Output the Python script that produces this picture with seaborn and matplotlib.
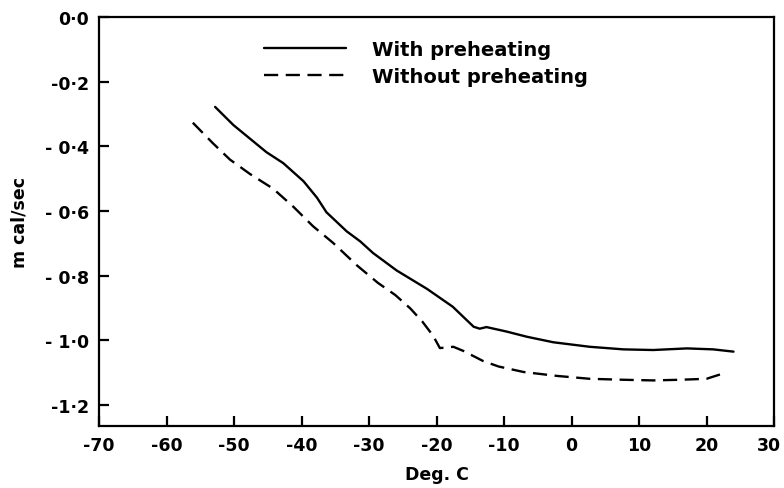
import numpy as np
import pandas as pd
import matplotlib
matplotlib.use("Agg")
import matplotlib.pyplot as plt
import matplotlib.transforms as mtransforms
import seaborn as sns

# Data
with_x = [-52.8, -50.1, -45.2, -42.7, -39.7, -37.7, -36.3, -33.3, -31.3, -29.4, -25.9, -21.4,
          -17.6, -15.8, -14.5, -13.6, -12.6, -9.6, -6.6, -2.7, 2.7, 7.7, 12.1, 17.1, 21.0, 24.0]
with_y = [-0.278, -0.334, -0.418, -0.452, -0.508, -0.559, -0.604, -0.663, -0.694, -0.730, -0.784, -0.841,
          -0.896, -0.932, -0.958, -0.964, -0.959, -0.973, -0.989, -1.006, -1.020, -1.028, -1.030, -1.025,
          -1.028, -1.035]

without_x = [-56.1, -53.1, -50.6, -47.6, -44.2, -41.2, -38.3, -35.3, -31.8, -28.7, -26.1, -23.9,
             -22.1, -20.5, -19.5, -17.5, -16.0, -13.1, -10.8, -7.1, -2.2, 2.7, 7.7, 12.1, 16.1,
             20.0, 22.7]
without_y = [-0.327, -0.391, -0.441, -0.486, -0.531, -0.587, -0.647, -0.699, -0.768, -0.822, -0.860, -0.901,
             -0.942, -0.986, -1.024, -1.020, -1.033, -1.064, -1.081, -1.098, -1.110, -1.119, -1.122, -1.124,
             -1.122, -1.119, -1.101]

series_labels = ["With preheating", "Without preheating"]
x_ticks = [-70, -60, -50, -40, -30, -20, -10, 0, 10, 20, 30]
x_ticklabels = ["-70", "-60", "-50", "-40", "-30", "-20", "-10", "0", "10", "20", "30"]
y_ticks = [0.0, -0.2, -0.4, -0.6, -0.8, -1.0, -1.2]
y_ticklabels = ["0·0", "-0·2", "- 0·4", "- 0·6", "- 0·8", "- 1·0", "-1·2"]

sns.set_theme(style="ticks")
plt.rcParams['font.family'] = ['DejaVu Sans']
plt.rcParams['text.color'] = 'black'
plt.rcParams['axes.labelcolor'] = 'black'

fig = plt.figure(figsize=(7.84, 4.89), dpi=100)
ax = fig.add_axes([99/784, 62/489, (774-99)/784, (427-18)/489])

df1 = pd.DataFrame({"x": with_x, "y": with_y})
df2 = pd.DataFrame({"x": without_x, "y": without_y})
sns.lineplot(data=df1, x="x", y="y", ax=ax, color="black", linewidth=1.7,
             label=series_labels[0], sort=False, estimator=None)
sns.lineplot(data=df2, x="x", y="y", ax=ax, color="black", linewidth=1.7,
             label=series_labels[1], sort=False, estimator=None)
ax.lines[1].set_dashes([6, 3.2])

ax.set_xlim(-70, 30)
ax.set_ylim(-1.265, 0.0)
ax.set_xticks(x_ticks)
ax.set_xticklabels(x_ticklabels)
ax.set_yticks(y_ticks)
ax.set_yticklabels(y_ticklabels)

for s in ax.spines.values():
    s.set_visible(True)
    s.set_linewidth(1.6)
    s.set_color("black")

ax.tick_params(axis="both", direction="in", length=7, width=1.6, colors="black",
               labelsize=12.5, pad=7)
for lab in ax.get_xticklabels() + ax.get_yticklabels():
    lab.set_fontweight("bold")
    lab.set_color("black")
# nudge the last x label so it stays inside the figure, as in the reference
last = ax.get_xticklabels()[-1]
last.set_transform(last.get_transform() + mtransforms.ScaledTranslation(-5/100, 0, fig.dpi_scale_trans))

ax.set_xlabel("Deg. C", fontsize=12.5, fontweight="bold", labelpad=8)
ax.set_ylabel("m cal/sec", fontsize=12.5, fontweight="bold", labelpad=12)

leg = ax.legend(loc="upper left", bbox_to_anchor=(0.219, 0.987), frameon=False,
                handlelength=4.2, handletextpad=1.35, labelspacing=0.4, borderpad=0.4,
                prop={"size": 14, "weight": "bold"})
for h in leg.get_lines():
    h.set_color("black")
    h.set_linewidth(1.7)
leg.get_lines()[1].set_dashes([6, 3.2])
for t in leg.get_texts():
    t.set_color("black")

fig.savefig("out.png", dpi=100)
